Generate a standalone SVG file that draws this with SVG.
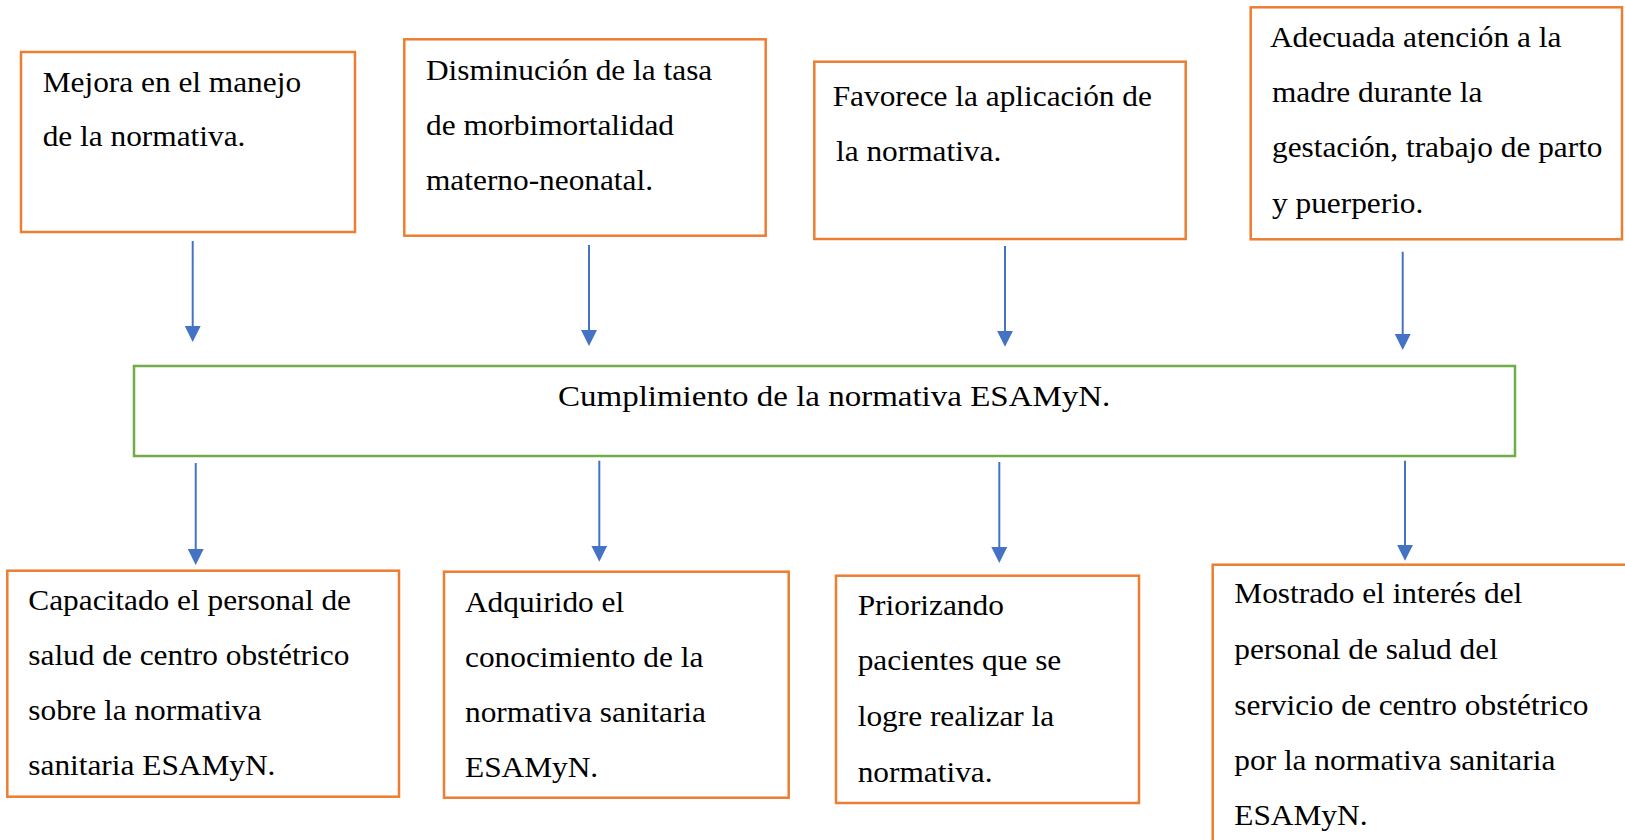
<svg xmlns="http://www.w3.org/2000/svg" width="1625" height="840" viewBox="0 0 1625 840">
<style>
.box{fill:#ffffff;stroke:#ED7D31;stroke-width:2.5}
.main{fill:#ffffff;stroke:#70AD47;stroke-width:2.5}
.t{font-family:"Liberation Serif","Times New Roman",serif;font-size:28.5px;fill:#000000}
.tm{font-family:"Liberation Serif","Times New Roman",serif;font-size:30px;fill:#000000}
.arr{stroke:#4472C4;stroke-width:2;fill:none;marker-end:url(#ah)}
</style>
<defs>
<marker id="ah" markerUnits="userSpaceOnUse" viewBox="0 0 16 16" markerWidth="16" markerHeight="16" refX="2" refY="8" orient="auto">
<path d="M0,0 L16,8 L0,16 z" fill="#4472C4"/>
</marker>
</defs>
<rect width="1625" height="840" fill="#ffffff"/>
<g id="connectors">
<line class="arr" x1="192.7" y1="241" x2="192.7" y2="328"/>
<line class="arr" x1="589" y1="245" x2="589" y2="332"/>
<line class="arr" x1="1005" y1="246" x2="1005" y2="332.7"/>
<line class="arr" x1="1402.7" y1="251.7" x2="1402.7" y2="336"/>
<line class="arr" x1="195.7" y1="463" x2="195.7" y2="551"/>
<line class="arr" x1="599.3" y1="460.7" x2="599.3" y2="547.7"/>
<line class="arr" x1="999.3" y1="462" x2="999.3" y2="549"/>
<line class="arr" x1="1405" y1="460.7" x2="1405" y2="546.7"/>
</g>
<g id="n1">
<rect class="box" x="21" y="52" width="334" height="180"/>
<text class="t" transform="translate(42.7 92) scale(1.1 1)"><tspan x="0" y="0">Mejora en el manejo</tspan><tspan x="0" y="54">de la normativa.</tspan></text>
</g>
<g id="n2">
<rect class="box" x="404.3" y="39.3" width="361.4" height="196.4"/>
<text class="t" transform="translate(426 80) scale(1.1 1)"><tspan x="0" y="0">Disminución de la tasa</tspan><tspan x="0" y="55">de morbimortalidad</tspan><tspan x="0" y="110">materno-neonatal.</tspan></text>
</g>
<g id="n3">
<rect class="box" x="814.3" y="61.7" width="371.4" height="177.3"/>
<text class="t" transform="translate(832.7 106) scale(1.1 1)"><tspan x="0" y="0">Favorece la aplicación de</tspan><tspan x="3" y="55">la normativa.</tspan></text>
</g>
<g id="n4">
<rect class="box" x="1250.7" y="7.3" width="371.3" height="232"/>
<text class="t" transform="translate(1270 46.7) scale(1.1 1)"><tspan x="0" y="0">Adecuada atención a la</tspan><tspan x="1.8" y="55">madre durante la</tspan><tspan x="1.8" y="110">gestación, trabajo de parto</tspan><tspan x="1.8" y="166.6">y puerperio.</tspan></text>
</g>
<g id="main">
<rect class="main" x="134" y="366" width="1381" height="90"/>
<text class="tm" transform="translate(558 406) scale(1.1 1)"><tspan x="0" y="0">Cumplimiento de la normativa ESAMyN.</tspan></text>
</g>
<g id="n5">
<rect class="box" x="7.3" y="570.7" width="391.7" height="226"/>
<text class="t" transform="translate(28.3 610) scale(1.1 1)"><tspan x="0" y="0">Capacitado el personal de</tspan><tspan x="0" y="55">salud de centro obstétrico</tspan><tspan x="0" y="110">sobre la normativa</tspan><tspan x="0" y="165">sanitaria ESAMyN.</tspan></text>
</g>
<g id="n6">
<rect class="box" x="444" y="571.7" width="344.7" height="226"/>
<text class="t" transform="translate(465 611.7) scale(1.1 1)"><tspan x="0" y="0">Adquirido el</tspan><tspan x="0" y="55">conocimiento de la</tspan><tspan x="0" y="110">normativa sanitaria</tspan><tspan x="0" y="165">ESAMyN.</tspan></text>
</g>
<g id="n7">
<rect class="box" x="836" y="575.7" width="303" height="227.3"/>
<text class="t" transform="translate(857.7 615) scale(1.1 1)"><tspan x="0" y="0">Priorizando</tspan><tspan x="0" y="55">pacientes que se</tspan><tspan x="0" y="111">logre realizar la</tspan><tspan x="0" y="166.7">normativa.</tspan></text>
</g>
<g id="n8">
<rect class="box" x="1212.7" y="564.7" width="420" height="290"/>
<text class="t" transform="translate(1234.3 603.3) scale(1.1 1)"><tspan x="0" y="0">Mostrado el interés del</tspan><tspan x="0" y="56">personal de salud del</tspan><tspan x="0" y="111.7">servicio de centro obstétrico</tspan><tspan x="0" y="166.7">por la normativa sanitaria</tspan><tspan x="0" y="221.7">ESAMyN.</tspan></text>
</g>
</svg>
